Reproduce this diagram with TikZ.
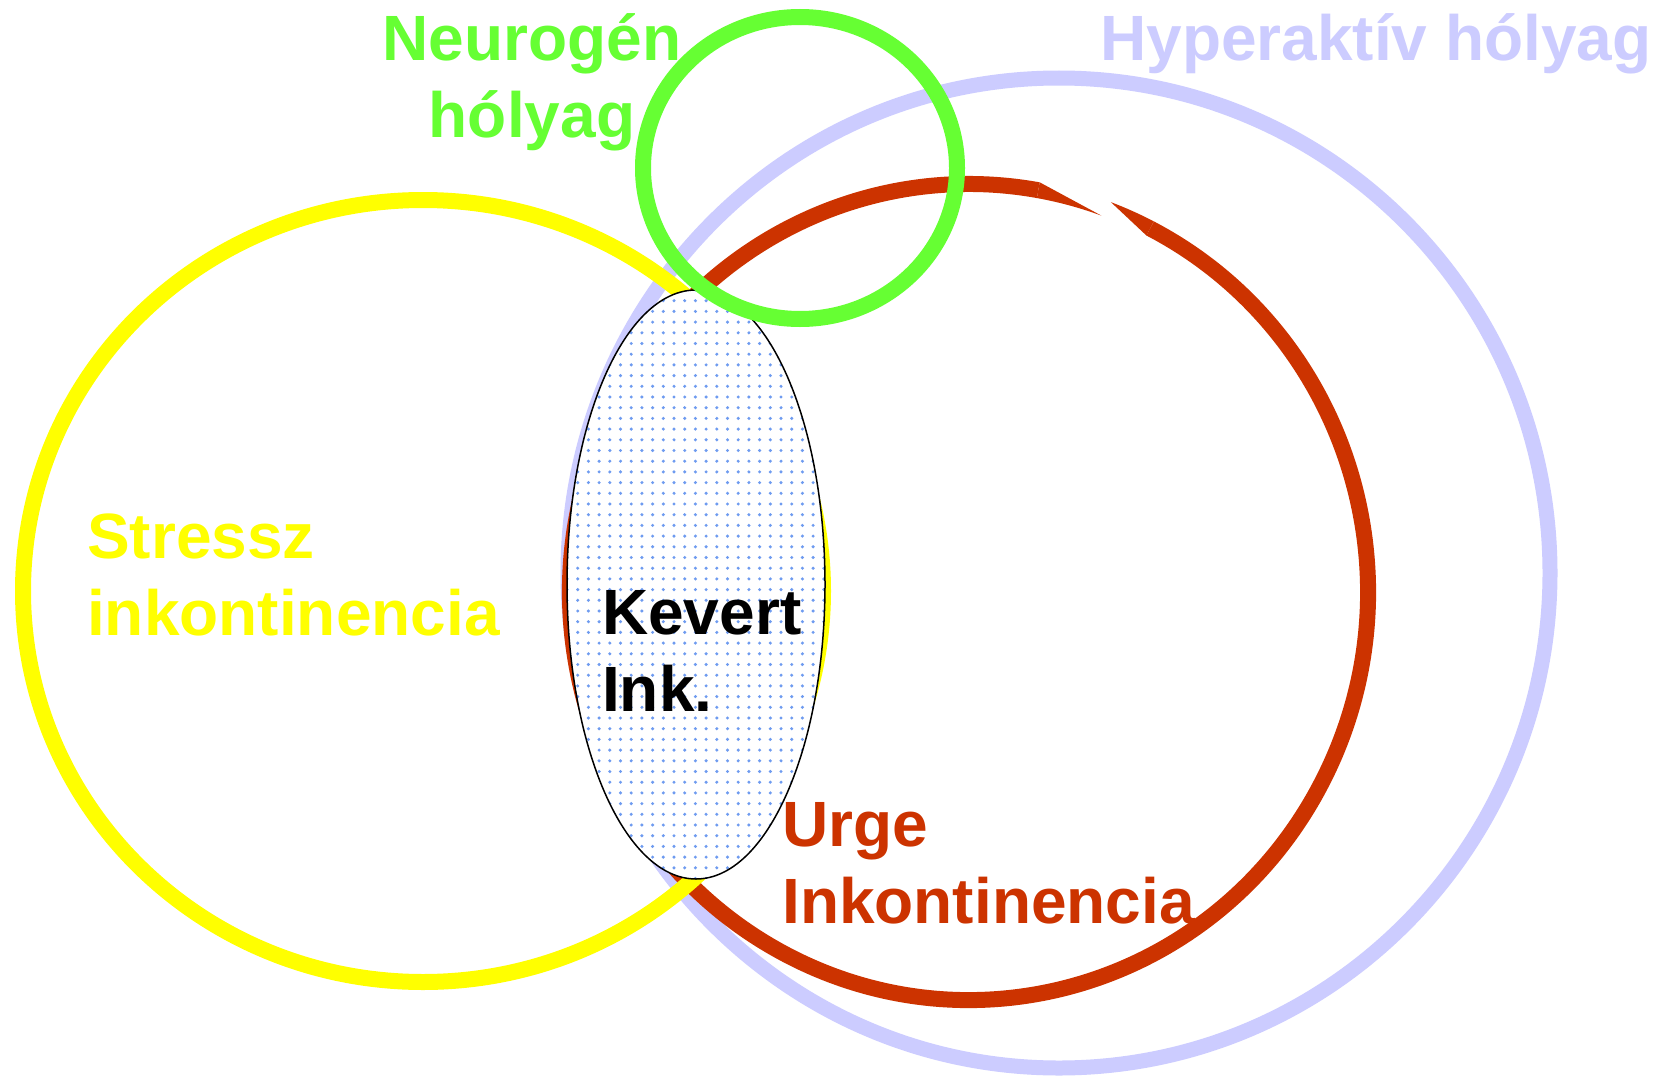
\documentclass[tikz,border=0pt]{standalone}
\usepackage{fontspec}
\setmainfont{Liberation Sans}
\definecolor{cyel}{HTML}{FFFF00}
\definecolor{clav}{HTML}{CCCCFF}
\definecolor{cred}{HTML}{CC3300}
\definecolor{cgrn}{HTML}{66FF33}
\definecolor{cdot}{RGB}{110,155,240}
\begin{document}
\begin{tikzpicture}[x=1pt,y=-1pt,
  lbl/.style={font=\bfseries\fontsize{64}{77}\selectfont, inner sep=0pt, align=left, anchor=base west},
  ring/.style={line width=16pt}]
\useasboundingbox (0,0) rectangle (1668,1081);
\fill[white] (0,0) rectangle (1668,1081);
\coordinate (lc) at (1059,573);
\coordinate (rc) at (969,592);
\coordinate (yc) at (423,591);
\coordinate (ec) at (696,584.5);
\coordinate (gc) at (800,168);
% lavender
\draw[clav, line width=15pt] (lc) ellipse [x radius=491, y radius=495];
% red with gap
\draw[cred, ring] ([shift={(rc)}]-63:399 and 408) arc[start angle=-63, end angle=280, x radius=399, y radius=408];
\fill[cred] ([shift={(rc)}]-80:407 and 416) -- ([shift={(rc)}]-70.2:391 and 400)
  arc[start angle=-70.2, end angle=-80, x radius=391, y radius=400] -- cycle;
\fill[cred] ([shift={(rc)}]-69.6:407 and 416)
  arc[start angle=-69.6, end angle=-63, x radius=407, y radius=416]
  -- ([shift={(rc)}]-63:391 and 400) -- cycle;
% yellow
\draw[cyel, ring] (yc) ellipse [x radius=400, y radius=391];
% mixed ellipse
\fill[white] (ec) ellipse [x radius=129, y radius=294.5];
\begin{scope}
\clip (ec) ellipse [x radius=129, y radius=294.5];
\foreach \i in {0,...,24}{
  \foreach \j in {0,...,55}{
    \fill[cdot] (567+10.7*\i, 290+10.7*\j) circle[radius=1.7];
  }
}
\end{scope}
\draw[black, line width=1.5pt] (ec) ellipse [x radius=129, y radius=294.5];
% green
\draw[cgrn, ring] (gc) ellipse [x radius=157, y radius=151];
% labels
\node[lbl, text=cgrn, align=center, anchor=base] (neuro) at (532,137) {Neurogén\\hólyag};
\node[lbl, text=clav] (hyper) at (1100,60) {Hyperaktív hólyag};
\node[lbl, text=cyel] (stress) at (87,635) {Stressz\\inkontinencia};
\node[lbl, text=black] (kevert) at (602,711) {Kevert\\Ink.};
\node[lbl, text=cred] (urge) at (782,923) {Urge\\Inkontinencia};
\end{tikzpicture}
\end{document}
